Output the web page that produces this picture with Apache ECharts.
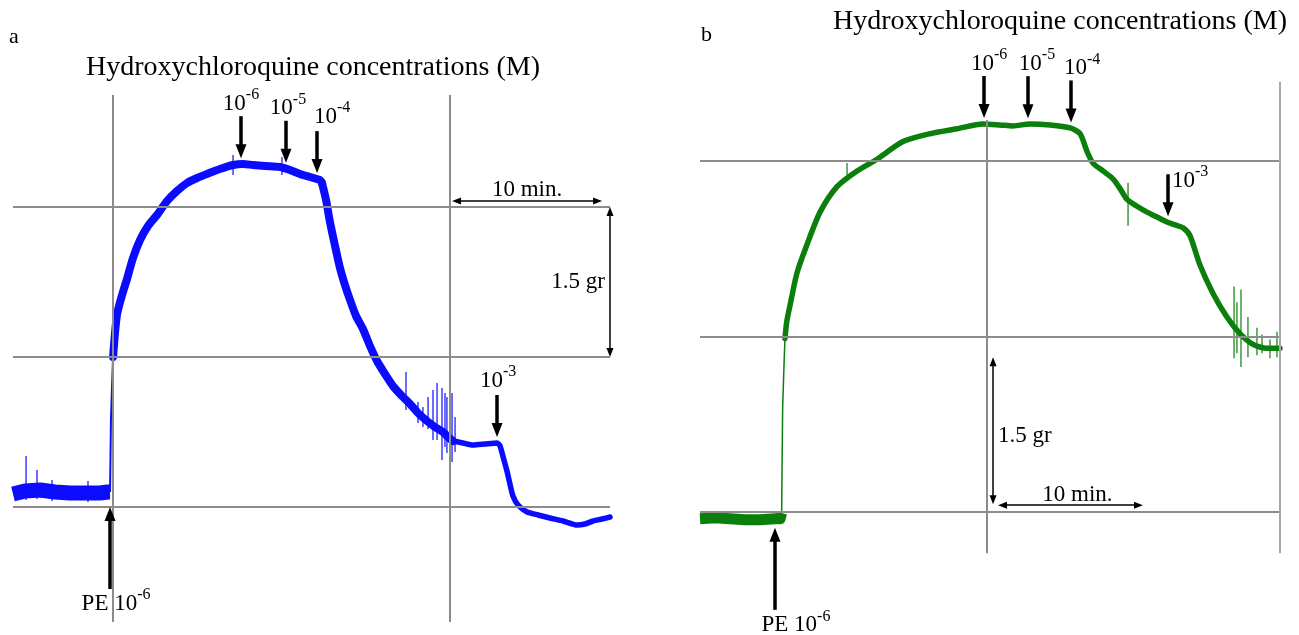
<!DOCTYPE html>
<html>
<head>
<meta charset="utf-8">
<title>Hydroxychloroquine concentrations (M)</title>
<script src="https://cdn.jsdelivr.net/npm/echarts@6/dist/echarts.min.js"></script>
<style>
  html, body { margin: 0; padding: 0; background: #fff; }
  #chart { width: 1299px; height: 635px; }
</style>
</head>
<body>
<div id="chart"></div>
<script>
// Isometric tension recordings. Time in minutes from the left edge of each trace,
// tension in grams relative to the lower recorder gridline.

// ---------- panel a ----------
const aBaseline = [[0,0.13],[0.8,0.16],[1.8,0.17],[2.8,0.15],[3.8,0.14],[4.8,0.14],[5.8,0.14],[6.33,0.15],[6.47,0.15]];
const aJump = [[6.47,0.15],[6.53,0.87],[6.67,1.50]];
const aContraction = [[6.67,1.50],[6.93,1.92],[7.27,2.12],[7.60,2.28],[8.00,2.49],[8.47,2.67],[9.00,2.81],[9.60,2.92],
  [10.27,3.06],[10.93,3.16],[11.60,3.24],[12.27,3.29],[12.93,3.33],[13.80,3.38],[14.67,3.42],[15.33,3.43],[16.00,3.42],
  [16.80,3.41],[17.80,3.40],[18.47,3.37],[19.13,3.33],[19.80,3.30],[20.47,3.27],[20.60,3.24]];
const aRelaxation = [[20.60,3.24],[20.87,3.07],[21.13,2.85],[21.47,2.61],[21.80,2.39],[22.13,2.22],[22.47,2.07],[22.87,1.91],
  [23.33,1.78],[23.80,1.61],[24.27,1.46],[24.80,1.33],[25.33,1.21],[25.93,1.11],[26.47,1.03],[27.00,0.94],[27.60,0.86],
  [28.13,0.80],[28.67,0.75],[29.00,0.70],[29.33,0.66]];
const aTail = [[29.33,0.66],[30.00,0.64],[30.67,0.62],[31.47,0.63],[32.27,0.64],[32.47,0.61],[32.73,0.47],[32.93,0.36],
  [33.13,0.23],[33.33,0.11],[33.67,0.02],[34.27,-0.05],[35.00,-0.08],[35.80,-0.11],[36.67,-0.14],[37.60,-0.18],
  [38.13,-0.17],[38.67,-0.14],[39.27,-0.12],[39.80,-0.10]];
// [time, top, bottom] of single noise excursions
const aSpikes = [[0.87,0.51,0.07],[1.60,0.37,0.08],[2.60,0.27,0.06],[5.00,0.26,0.05],[14.67,3.52,3.32],[17.93,3.50,3.32],
  [26.20,1.35,0.97],[27.00,1.05,0.84],[27.33,1.00,0.80],[27.67,1.10,0.78],[28.00,1.17,0.67],[28.27,1.24,0.67],
  [28.60,1.19,0.47],[28.80,1.14,0.60],[28.93,1.10,0.54],[29.27,1.14,0.45],[29.47,0.90,0.55]];
const aGridTimes = [6.67, 29.13];
const aGridLevels = [0, 1.5, 3.0];
const aDoseTimes = [15.20, 18.20, 20.27, 32.27];
const aDoseExponents = ['-6', '-5', '-4', '-3'];
const aAgonistTime = 6.47;

// ---------- panel b ----------
const bBaseline = [[0,-0.07],[1.03,-0.06],[2.07,-0.07],[3.10,-0.08],[4.14,-0.08],[5.17,-0.07],[5.52,-0.07],[5.63,-0.01]];
const bJump = [[5.63,-0.01],[5.70,1.07],[5.81,1.57],[5.86,1.77]];
const bResponse = [[5.86,1.77],[5.98,1.94],[6.21,2.11],[6.69,2.44],[7.38,2.73],[8.28,3.06],[9.45,3.32],[10.83,3.48],
  [12.21,3.60],[14.00,3.78],[15.86,3.86],[17.72,3.91],[19.52,3.96],[20.69,3.95],[21.59,3.94],[22.76,3.96],[24.14,3.95],
  [25.52,3.92],[26.21,3.86],[26.69,3.68],[27.10,3.56],[27.79,3.48],[28.48,3.40],[28.97,3.30],[29.45,3.19],[30.14,3.12],
  [30.83,3.06],[31.52,3.01],[32.21,2.96],[32.76,2.93],[33.31,2.90],[33.79,2.82],[34.48,2.52],[35.38,2.23],[36.34,1.99],
  [37.24,1.82],[38.14,1.71],[39.10,1.67],[40.00,1.67]];
const bSpikes = [[10.14,3.56,3.44],[29.52,3.36,2.92],[36.83,2.30,1.57],[37.03,2.14,1.62],[37.31,2.27,1.48],[37.79,1.99,1.58],
  [38.41,1.88,1.60],[38.76,1.81,1.62],[39.31,1.76,1.57],[39.79,1.84,1.58]];
const bGridTimes = [19.79, 40.0];
const bGridLevels = [0, 1.786, 3.582];
const bDoseTimes = [19.59, 22.62, 25.59, 32.28];
const bDoseExponents = ['-6', '-5', '-4', '-3'];
const bAgonistTime = 5.17;

// ---------- layout ----------
const FONT = '"Liberation Serif", "Times New Roman", serif';
const panels = [
  {
    left: 13, zeroPx: 507, pxPerMin: 15, pxPerG: 100, xMax: 39.8, yMin: -1.25, yMax: 4.6,
    color: '#0b0bff', title: [313, 68], letter: ['a', 9, 37],
    traces: [[aBaseline, 15, 0, 'butt'], [aJump, 2, 0, 'butt'], [aContraction, 8, 0.25, 'round'],
      [aRelaxation, 8, 0.25, 'round'], [aTail, 5.5, 0.2, 'round']],
    spikes: aSpikes, gridTimes: aGridTimes, gridLevels: aGridLevels,
    vLines: [[-1.15, 4.12], [-1.15, 4.12]], hEnd: 39.8, gridColor: ['#8c8c8c', '#8c8c8c'],
    doseTimes: aDoseTimes, doseExp: aDoseExponents,
    doseLabelOffsets: [[0, -15], [2, -15], [15, -17], [1, -17]],
    agonistTime: aAgonistTime, agonistGap: 15, agonistLabelOffset: [6, 12],
    timeBar: { t0: 29.27, t1: 39.27, g: 3.06, labelOffset: [0, -14] },
    forceBar: { t: 39.8, g0: 1.5, g1: 3.0, labelOffset: [-5, -3], align: 'right' }
  },
  {
    left: 700, zeroPx: 512, pxPerMin: 14.5, pxPerG: 98, xMax: 40, yMin: -1.25, yMax: 4.8,
    color: '#0b7f0b', title: [1060, 22], letter: ['b', 701, 35],
    traces: [[bBaseline, 11, 0, 'butt'], [bJump, 1.5, 0, 'butt'], [bResponse, 5.5, 0.25, 'round']],
    spikes: bSpikes, gridTimes: bGridTimes, gridLevels: bGridLevels,
    vLines: [[-0.42, 4.0], [-0.42, 4.39]], hEnd: 40, gridColor: ['#8c8c8c', '#a8a8a8'],
    doseTimes: bDoseTimes, doseExp: bDoseExponents,
    doseLabelOffsets: [[5, -15], [9, -15], [11, -15], [22, 4]],
    agonistTime: bAgonistTime, agonistGap: 9, agonistLabelOffset: [21, 13],
    timeBar: { t0: 20.55, t1: 30.55, g: 0.07, labelOffset: [7, -13] },
    forceBar: { t: 20.21, g0: 0.08, g1: 1.58, labelOffset: [5, 3], align: 'left' }
  }
];

const rich = {
  n: { fontFamily: FONT, fontSize: 23, color: '#000', lineHeight: 28, verticalAlign: 'bottom' },
  s: { fontFamily: FONT, fontSize: 16, color: '#000', lineHeight: 28, verticalAlign: 'top' }
};

function traceAt(p, t) {
  const pts = p.traces.map(s => s[0]).flat();
  for (let i = 0; i < pts.length - 1; i++) {
    const a = pts[i], b = pts[i + 1];
    if (t >= a[0] && t <= b[0]) {
      const f = b[0] === a[0] ? 0 : (t - a[0]) / (b[0] - a[0]);
      return a[1] + f * (b[1] - a[1]);
    }
  }
  return pts[pts.length - 1][1];
}

function textPoint(coord, text, offset, align) {
  return {
    coord, symbol: 'rect', symbolSize: 0,
    label: { show: true, position: 'inside', formatter: text, rich, offset, align: align || 'center',
      fontFamily: FONT, fontSize: 23, color: '#000' }
  };
}

const grids = [], xAxes = [], yAxes = [], series = [], graphics = [];

panels.forEach((p, i) => {
  const px = v => v / p.pxPerG;   // pixels -> grams on this panel
  const pm = v => v / p.pxPerMin; // pixels -> minutes on this panel
  grids.push({ left: p.left, top: p.zeroPx - p.yMax * p.pxPerG,
    width: p.xMax * p.pxPerMin, height: (p.yMax - p.yMin) * p.pxPerG });
  xAxes.push({ gridIndex: i, type: 'value', min: 0, max: p.xMax, show: false });
  yAxes.push({ gridIndex: i, type: 'value', min: p.yMin, max: p.yMax, show: false });

  // recorder gridlines
  const hLines = p.gridLevels.map(g => [{ coord: [0, g] }, { coord: [p.hEnd, g] }]);
  const vLines = p.gridTimes.map((t, k) => [
    { coord: [t, p.vLines[k][0]], lineStyle: { color: p.gridColor[k] } },
    { coord: [t, p.vLines[k][1]] }]);
  series.push({
    type: 'line', xAxisIndex: i, yAxisIndex: i, data: [], z: 1, silent: true, animation: false,
    markLine: { silent: true, animation: false, symbol: ['none', 'none'], label: { show: false },
      lineStyle: { color: p.gridColor[0], width: 2, type: 'solid' }, emphasis: { disabled: true },
      data: hLines.concat(vLines) }
  });

  // tension trace
  p.traces.forEach(([data, w, smooth, cap]) => {
    series.push({
      type: 'line', xAxisIndex: i, yAxisIndex: i, data, symbol: 'none', z: 2, silent: true,
      smooth, animation: false, lineStyle: { color: p.color, width: w, cap, join: 'round' }
    });
  });
  series.push({
    type: 'custom', xAxisIndex: i, yAxisIndex: i, data: p.spikes, z: 2, silent: true, animation: false,
    encode: { x: 0, y: [1, 2] },
    renderItem(params, api) {
      const a = api.coord([api.value(0), api.value(1)]);
      const b = api.coord([api.value(0), api.value(2)]);
      return { type: 'line', shape: { x1: a[0], y1: a[1], x2: b[0], y2: b[1] },
        style: { stroke: p.color, lineWidth: 1.2 } };
    }
  });

  // drug additions: arrows and labels
  const head = [11, 14];
  const doseLines = [], labels = [];
  p.doseTimes.forEach((t, k) => {
    const tip = traceAt(p, t) + px(6);
    const top = tip + px(42);
    doseLines.push([{ coord: [t, top], symbol: 'none' },
      { coord: [t, tip + px(head[1] / 2)], symbol: 'triangle', symbolSize: head }]);
    labels.push(textPoint([t, top], '{n|10}{s|' + p.doseExp[k] + '}', p.doseLabelOffsets[k]));
  });
  const agTip = traceAt(p, p.agonistTime) - px(p.agonistGap);
  const agBottom = agTip - px(82);
  doseLines.push([{ coord: [p.agonistTime, agBottom], symbol: 'none' },
    { coord: [p.agonistTime, agTip - px(head[1] / 2)], symbol: 'triangle', symbolSize: head }]);
  labels.push(textPoint([p.agonistTime, agBottom], '{n|PE 10}{s|-6}', p.agonistLabelOffset));

  series.push({
    type: 'line', xAxisIndex: i, yAxisIndex: i, data: [], z: 4, silent: true, animation: false,
    markLine: { silent: true, animation: false, label: { show: false }, emphasis: { disabled: true },
      lineStyle: { color: '#000', width: 3.5, type: 'solid' }, data: doseLines }
  });

  // calibration bars
  const sh = [7, 9];
  const tb = p.timeBar, fb = p.forceBar;
  const barLines = [
    [{ coord: [tb.t0 + pm(sh[1] / 2), tb.g], symbol: 'triangle', symbolSize: sh },
     { coord: [tb.t1 - pm(sh[1] / 2), tb.g], symbol: 'triangle', symbolSize: sh }],
    [{ coord: [fb.t, fb.g0 + px(sh[1] / 2)], symbol: 'triangle', symbolSize: sh },
     { coord: [fb.t, fb.g1 - px(sh[1] / 2)], symbol: 'triangle', symbolSize: sh }]
  ];
  labels.push(textPoint([(tb.t0 + tb.t1) / 2, tb.g], '{n|10 min.}', tb.labelOffset));
  labels.push(textPoint([fb.t, (fb.g0 + fb.g1) / 2], '{n|1.5 gr}', fb.labelOffset, fb.align));

  series.push({
    type: 'line', xAxisIndex: i, yAxisIndex: i, data: [], z: 4, silent: true, animation: false,
    markLine: { silent: true, animation: false, label: { show: false }, emphasis: { disabled: true },
      lineStyle: { color: '#000', width: 1.5, type: 'solid' }, data: barLines },
    markPoint: { silent: true, animation: false, data: labels }
  });

  graphics.push({ type: 'text', x: p.title[0], y: p.title[1], silent: true,
    style: { text: 'Hydroxychloroquine concentrations (M)', fontFamily: FONT, fontSize: 28,
      fill: '#000', align: 'center', verticalAlign: 'middle' } });
  graphics.push({ type: 'text', x: p.letter[1], y: p.letter[2], silent: true,
    style: { text: p.letter[0], fontFamily: FONT, fontSize: 22, fill: '#000',
      align: 'left', verticalAlign: 'middle' } });
});

const chart = echarts.init(document.getElementById('chart'), null, { renderer: 'canvas' });
chart.setOption({
  backgroundColor: '#fff',
  animation: false,
  grid: grids,
  xAxis: xAxes,
  yAxis: yAxes,
  series,
  graphic: graphics
});
</script>
</body>
</html>
